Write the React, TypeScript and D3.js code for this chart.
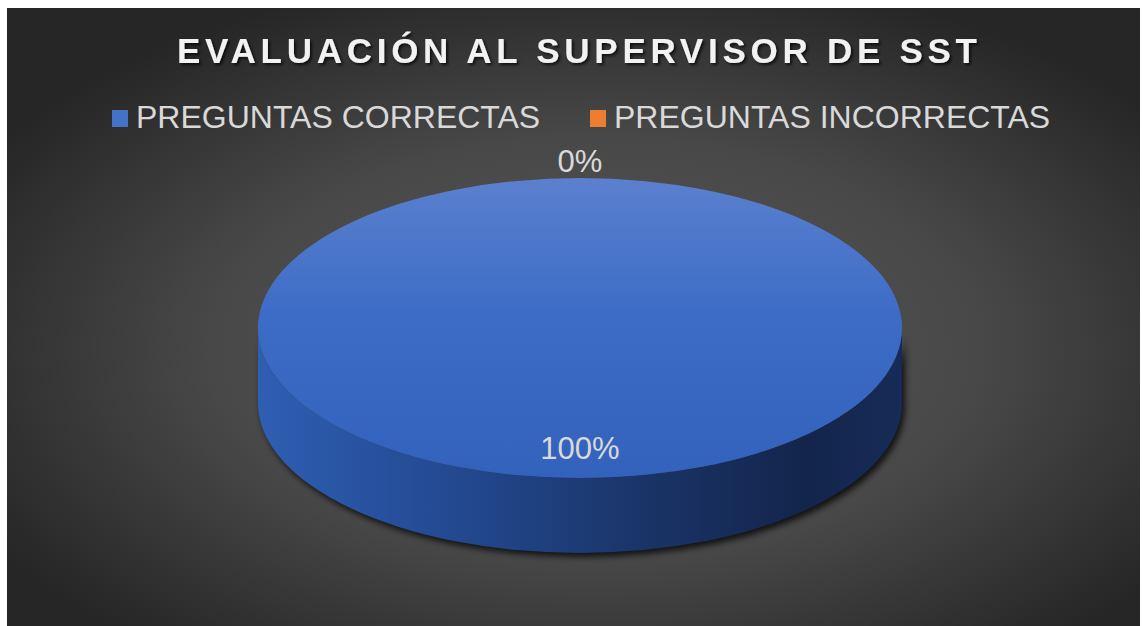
import * as d3 from 'd3';

const categories = ['PREGUNTAS CORRECTAS', 'PREGUNTAS INCORRECTAS'];
const values = [100, 0];
const sliceColors = ['#4472C4', '#ED7D31'];
const title = 'EVALUACIÓN AL SUPERVISOR DE SST';

const W = 1142;
const H = 626;
const box = { x: 7, y: 8, w: 1133, h: 618 };

const cx = 580;
const cy = 328;
const rx = 322;
const ry = 150;
const depth = 75;

export default function App() {
  const total = d3.sum(values);
  const pie = d3.pie<number>().sort(null).startAngle(0).endAngle(2 * Math.PI);
  const slices = pie(values);
  const arc = d3.arc<d3.PieArcDatum<number>>().innerRadius(0).outerRadius(rx);
  const pct = d3.format('.0%');

  // projected point on the tilted disc, k = fraction of radius
  const proj = (a: number, k: number) => [cx + rx * k * Math.sin(a), cy - ry * k * Math.cos(a)];

  const sidePath =
    `M${cx - rx},${cy} A${rx},${ry} 0 0 0 ${cx + rx},${cy} ` +
    `L${cx + rx},${cy + depth} A${rx},${ry} 0 0 1 ${cx - rx},${cy + depth} Z`;

  const legendX = [112, 590];

  return (
    <svg width={W} height={H} style={{ position: 'absolute', left: 0, top: 0 }}>
      <defs>
        <radialGradient id="bg" cx="0.52" cy="0.55" r="0.62">
          <stop offset="0" stopColor="#575757" />
          <stop offset="0.55" stopColor="#484848" />
          <stop offset="1" stopColor="#262626" />
        </radialGradient>
        <linearGradient id="topFace" x1="0" y1="0" x2="0" y2="1">
          <stop offset="0" stopColor="#5B80CE" />
          <stop offset="0.45" stopColor="#3D6CC7" />
          <stop offset="1" stopColor="#3362BC" />
        </linearGradient>
        <linearGradient id="sideFace" x1="0" y1="0" x2="1" y2="0">
          <stop offset="0" stopColor="#2F5EB3" />
          <stop offset="0.3" stopColor="#234991" />
          <stop offset="0.6" stopColor="#1A3468" />
          <stop offset="0.85" stopColor="#13254C" />
          <stop offset="1" stopColor="#162B57" />
        </linearGradient>
        <filter id="blur" x="-10%" y="-10%" width="120%" height="130%">
          <feGaussianBlur stdDeviation="3" />
        </filter>
        <filter id="tshadow" x="-5%" y="-30%" width="110%" height="160%">
          <feDropShadow dx="2" dy="2" stdDeviation="1.5" floodColor="#000" floodOpacity="0.7" />
        </filter>
      </defs>

      <rect x={box.x} y={box.y} width={box.w} height={box.h} fill="url(#bg)" />

      <text
        x={577}
        y={63}
        textAnchor="middle"
        textLength={800}
        lengthAdjust="spacing"
        fontFamily="Liberation Sans, Arial, sans-serif"
        fontWeight="bold"
        fontSize={35}
        fill="#F2F2F2"
        filter="url(#tshadow)"
      >
        {title}
      </text>

      {categories.map((c, i) => (
        <g key={c}>
          <rect x={legendX[i]} y={110} width={16} height={17} fill={sliceColors[i]} />
          <text
            x={legendX[i] + 24}
            y={128}
            fontFamily="Liberation Sans, Arial, sans-serif"
            fontSize={32}
            fill="#D9D9D9"
          >
            {c}
          </text>
        </g>
      ))}

      {/* shadow under the disc */}
      <path d={sidePath} transform="translate(3,4)" fill="#000" opacity={0.75} filter="url(#blur)" />

      {/* side wall */}
      <path d={sidePath} fill="url(#sideFace)" />

      {/* top face */}
      <g transform={`translate(${cx},${cy}) scale(1,${ry / rx})`}>
        {slices.map((s, i) =>
          s.endAngle - s.startAngle > 0 ? (
            <path key={i} d={arc(s) || ''} fill={i === 0 ? 'url(#topFace)' : sliceColors[i]} />
          ) : null
        )}
      </g>

      {slices.map((s, i) => {
        const mid = (s.startAngle + s.endAngle) / 2;
        const inside = s.value > 0;
        const [lx, ly] = proj(mid, inside ? 0.8 : 1.11);
        return (
          <text
            key={'l' + i}
            x={lx}
            y={ly}
            dy="0.35em"
            textAnchor="middle"
            fontFamily="Liberation Sans, Arial, sans-serif"
            fontSize={31}
            fill="#D9D9D9"
          >
            {pct(s.value / total)}
          </text>
        );
      })}
    </svg>
  );
}
